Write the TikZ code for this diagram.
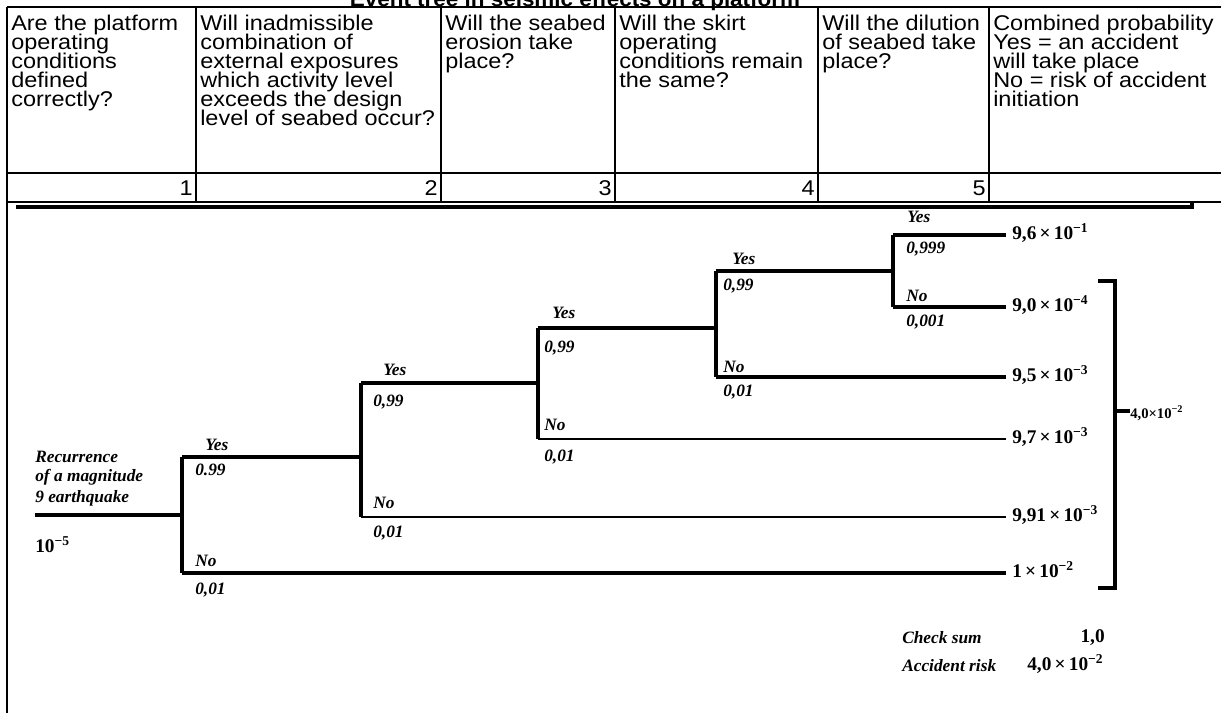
\documentclass[tikz,border=0pt]{standalone}
\usepackage{fontspec}
\setmainfont{Liberation Serif}
\newfontfamily\hdrfam[FakeStretch=1.1]{Liberation Sans}
\newcommand\hdrfont{\hdrfam\fontsize{16}{14.25}\selectfont}
\newcommand\titfont{\hdrfam\bfseries\fontsize{15.3}{18}\selectfont}
\newcommand\lblfont{\fontsize{13}{15}\selectfont\bfseries\itshape}
\newcommand\outfont{\fontsize{14.5}{17}\selectfont\bfseries}
\newcommand\smallout{\fontsize{11}{13}\selectfont\bfseries}
\newcommand\scinum[2]{#1\,×\,10\textsuperscript{−#2}}
\tikzset{
  tline/.style={line width=1.3pt},
  branch/.style={line width=2.4pt},
  thinbranch/.style={line width=1.8pt},
  hdr/.style={anchor=base west, inner sep=0pt, font=\hdrfont},
  lbl/.style={anchor=west, inner sep=0pt, font=\lblfont},
  outc/.style={anchor=base west, inner sep=0pt, inner xsep=4.5pt, font=\outfont},
}
\begin{document}
\begin{tikzpicture}[x=0.75pt,y=-0.75pt]
\useasboundingbox (0,0) rectangle (1221,715);
% title (top part cut off, as in the scanned original)
\node[anchor=base, inner sep=0pt, font=\titfont] (title) at (575,6) {Event tree in seismic effects on a platform};
% table grid
\coordinate (tl) at (7,7);
\coordinate (tr) at (1221,7);
\draw[tline] (tl) -- (tr);
\draw[tline] (7,173) -- (1221,173);
\draw[tline] (7,202) -- (1221,202);
\draw[tline] (7,7) -- (7,713);
\foreach \sx in {196,441,615,818,989} \draw[tline] (\sx,7) -- (\sx,202);
% thick under-line of the scanned figure
\draw[line width=2.4pt] (16,207) -- (1192,207) -- (1192,202);
% header texts
\foreach \t [count=\i from 0] in {Are the platform,operating,conditions,defined,correctly?}
  \node[hdr] (ha\i) at (11,{30.5+19*\i}) {\t};
\foreach \t [count=\i from 0] in {Will inadmissible,combination of,external exposures,which activity level,exceeds the design,level of seabed occur?}
  \node[hdr] (hb\i) at (200,{30.5+19*\i}) {\t};
\foreach \t [count=\i from 0] in {Will the seabed,erosion take,place?}
  \node[hdr] (hc\i) at (445,{30.5+19*\i}) {\t};
\foreach \t [count=\i from 0] in {Will the skirt,operating,conditions remain,the same?}
  \node[hdr] (hd\i) at (619,{30.5+19*\i}) {\t};
\foreach \t [count=\i from 0] in {Will the dilution,of seabed take,place?}
  \node[hdr] (he\i) at (822,{30.5+19*\i}) {\t};
\foreach \t [count=\i from 0] in {Combined probability,Yes = an accident,will take place,No = risk of accident,initiation}
  \node[hdr] (hf\i) at (993,{30.5+19*\i}) {\t};
% column numbers
\node[hdr, anchor=base east] (num1) at (193,195) {1};
\node[hdr, anchor=base east] (num2) at (438,195) {2};
\node[hdr, anchor=base east] (num3) at (612,195) {3};
\node[hdr, anchor=base east] (num4) at (815,195) {4};
\node[hdr, anchor=base east] (num5) at (986,195) {5};
% ---------------- event tree ----------------
\coordinate (root) at (35,515);
\coordinate (n1) at (182,515);
\coordinate (n1y) at (182,457);
\coordinate (n1n) at (182,573);
\coordinate (n2) at (361,450);
\coordinate (n2y) at (361,383);
\coordinate (n2n) at (361,517);
\coordinate (n3) at (538,383);
\coordinate (n3y) at (538,328);
\coordinate (n3n) at (538,439);
\coordinate (n4) at (716,324);
\coordinate (n4y) at (716,271);
\coordinate (n4n) at (716,377);
\coordinate (n5) at (893,271);
\coordinate (n5y) at (893,235);
\coordinate (n5n) at (893,307);
% outcome values
\node[outc] (o1) at (1006,239) {\scinum{9,6}{1}};
\node[outc] (o2) at (1006,311) {\scinum{9,0}{4}};
\node[outc] (o3) at (1006,381) {\scinum{9,5}{3}};
\node[outc] (o4) at (1006,443) {\scinum{9,7}{3}};
\node[outc] (o5) at (1006,521) {\scinum{9,91}{3}};
\node[outc] (o6) at (1006,577) {\scinum{1}{2}};
% branches
\draw[branch] (root) -- (n1);
\draw[branch] (n1y) -- (n1n);
\draw[branch] (n1y) -- (n1y -| n2);
\draw[branch] (n1n) -- (n1n -| o6.west);
\draw[branch] (n2y) -- (n2n);
\draw[branch] (n2y) -- (n2y -| n3);
\draw[thinbranch] (n2n) -- (n2n -| o5.west);
\draw[branch] (n3y) -- (n3n);
\draw[branch] (n3y) -- (n3y -| n4);
\draw[thinbranch] (n3n) -- (n3n -| o4.west);
\draw[branch] (n4y) -- (n4n);
\draw[branch] (n4y) -- (n4y -| n5);
\draw[branch] (n4n) -- (n4n -| o3.west);
\draw[branch] (n5y) -- (n5n);
\draw[branch] (n5y) -- (n5y -| o1.west);
\draw[branch] (n5n) -- (n5n -| o2.west);
% initiating event
\node[lbl] (r1) at (35,457) {Recurrence};
\node[lbl] (r2) at (35,477) {of a magnitude};
\node[lbl] (r3) at (35,498) {9 earthquake};
\node[anchor=west, inner sep=0pt, font=\outfont] (r4) at (35,545) {10\textsuperscript{−5}};
% branch labels
\node[lbl] (y1) at (205,445) {Yes};
\node[lbl] (p1) at (195,470) {0.99};
\node[lbl] (x1) at (195,561) {No};
\node[lbl] (q1) at (195,590) {0,01};
\node[lbl] (y2) at (383,370) {Yes};
\node[lbl] (p2) at (373,402) {0,99};
\node[lbl] (x2) at (373,503) {No};
\node[lbl] (q2) at (373,533) {0,01};
\node[lbl] (y3) at (552,313) {Yes};
\node[lbl] (p3) at (544,348) {0,99};
\node[lbl] (x3) at (544,425) {No};
\node[lbl] (q3) at (544,457) {0,01};
\node[lbl] (y4) at (732,259) {Yes};
\node[lbl] (p4) at (723,286) {0,99};
\node[lbl] (x4) at (723,367) {No};
\node[lbl] (q4) at (723,392) {0,01};
\node[lbl] (y5) at (907,217) {Yes};
\node[lbl] (p5) at (906,249) {0,999};
\node[lbl] (x5) at (906,296) {No};
\node[lbl] (q5) at (906,322) {0,001};
% bracket summing the accident outcomes
\coordinate (bt) at (1115,281);
\coordinate (bb) at (1115,588);
\coordinate (bm) at (1115,411);
\draw[branch] (1098,281) -- (bt) -- (bb) -- (1098,588);
\node[anchor=base west, inner sep=0pt, font=\smallout] (sum) at (1130,418) {4,0×10\textsuperscript{−2}};
\draw[branch] (bm) -- (sum.west |- bm);
% check sums
\node[lbl] (cs) at (902,638) {Check sum};
\node[anchor=east, inner sep=0pt, font=\outfont] (csv) at (1105,638) {1,0};
\node[lbl] (ar) at (902,666) {Accident risk};
\node[anchor=west, inner sep=0pt, font=\outfont] (arv) at (1027,664) {\scinum{4,0}{2}};
\end{tikzpicture}
\end{document}
